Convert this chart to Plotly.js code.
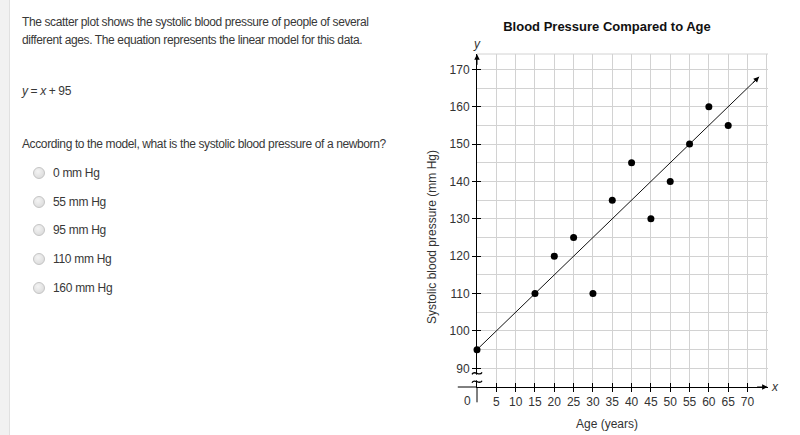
<!DOCTYPE html>
<html>
<head>
<meta charset="utf-8">
<script src="https://cdn.plot.ly/plotly-3.0.1.min.js"></script>
<style>
  body { margin: 0; width: 800px; height: 435px; overflow: hidden; background: #fff;
         font-family: "Liberation Sans", Arial, sans-serif; color: #383838; }
  #strip { position: absolute; left: 0; top: 0; width: 9px; height: 435px;
           background: #f1f1f1; border-right: 1px solid #e0e0e0; }
  .txt { position: absolute; left: 22px; font-size: 12px; letter-spacing: -0.38px; line-height: 17.5px;
         white-space: nowrap; z-index: 2; }
  .opt { position: absolute; left: 33px; font-size: 12px; letter-spacing: -0.3px; white-space: nowrap; z-index: 2; }
  .opt .dot { display: inline-block; width: 10px; height: 10px; border-radius: 50%;
              border: 1px solid #c4c4c4; background: radial-gradient(circle at 40% 35%, #f4f4f4, #d6d6d6);
              vertical-align: middle; margin-right: 8px; position: relative; top: -1px; }
  #plot { position: absolute; left: 400px; top: 0; width: 400px; height: 435px; }
</style>
</head>
<body>
<div id="strip"></div>
<div class="txt" style="top:14px">The scatter plot shows the systolic blood pressure of people of several<br>different ages. The equation represents the linear model for this data.</div>
<div class="txt" style="top:83px"><i>y</i> = <i>x</i> + 95</div>
<div class="txt" style="top:136px">According to the model, what is the systolic blood pressure of a newborn?</div>
<div id="options"></div>
<div id="plot"></div>
<script>
// answer choices
const choices = ['0 mm Hg', '55 mm Hg', '95 mm Hg', '110 mm Hg', '160 mm Hg'];

// scatter data
const ages = [0, 15, 20, 25, 30, 35, 40, 45, 50, 55, 60, 65];
const pressures = [95, 110, 120, 125, 110, 135, 145, 130, 140, 150, 160, 155];

// model line y = x + 95, drawn between its end points
const modelX = [0, 73];
const modelY = [95, 168];

const xTicks = [5, 10, 15, 20, 25, 30, 35, 40, 45, 50, 55, 60, 65, 70];
const yTicks = [90, 100, 110, 120, 130, 140, 150, 160, 170];

const optBox = document.getElementById('options');
choices.forEach((c, i) => {
    const d = document.createElement('div');
    d.className = 'opt';
    d.style.top = (166 + i * 28.7) + 'px';
    d.innerHTML = '<span class="dot"></span>' + c;
    optBox.appendChild(d);
});

const font = 'Liberation Sans, Arial, sans-serif';
const grid = '#d2d2d2';
const labelFont = { family: font, size: 12, color: '#333' };

const traces = [
    {
        x: modelX, y: modelY, mode: 'lines', type: 'scatter',
        line: { color: '#111', width: 1 }, hoverinfo: 'skip', cliponaxis: false
    },
    {
        x: ages, y: pressures, mode: 'markers', type: 'scatter',
        marker: { color: '#000', size: 7 }, cliponaxis: false
    },
    // empty trace so the overlay axes (inner half of the crossing ticks) get drawn
    { x: [], y: [], xaxis: 'x2', yaxis: 'y2', type: 'scatter' }
];

const axisCommon = {
    showline: true, linecolor: '#000', linewidth: 1,
    ticks: 'outside', ticklen: 4, tickcolor: '#000', tickwidth: 1,
    tickfont: labelFont,
    showgrid: true, gridcolor: grid, gridwidth: 1, zeroline: false,
    fixedrange: true, tickmode: 'array'
};

// small text placed around the axes, in axis-domain units
function note(x, y, text) {
    return { x: x, y: y, xref: 'x domain', yref: 'y domain', xanchor: 'center', yanchor: 'middle',
             text: text, showarrow: false, font: labelFont };
}

// one wavy stroke of the axis break mark, sized in pixels
function tilde(yDomain) {
    return { type: 'path', xref: 'x domain', yref: 'y domain', xsizemode: 'pixel', ysizemode: 'pixel',
             xanchor: 0, yanchor: yDomain, path: 'M-5,-1 C-2.5,4 2.5,-4 5,1',
             line: { color: '#000', width: 1.3 }, layer: 'above' };
}

const layout = {
    width: 400, height: 435,
    margin: { l: 77, r: 32, t: 54, b: 48 },
    paper_bgcolor: 'rgba(0,0,0,0)', plot_bgcolor: '#fff',
    showlegend: false,
    title: {
        text: '<b>Blood Pressure Compared to Age</b>',
        font: { family: font, size: 13, color: '#111' },
        xref: 'container', x: 0.5175, xanchor: 'center',
        yref: 'container', y: 0.94, yanchor: 'middle'
    },
    xaxis: Object.assign({}, axisCommon, {
        range: [0, 75.3], tickvals: xTicks,
        minor: { tick0: 0, dtick: 5, showgrid: true, gridcolor: grid, ticks: '' }
    }),
    yaxis: Object.assign({}, axisCommon, {
        range: [85, 174.1], tickvals: yTicks,
        minor: { tick0: 0, dtick: 5, showgrid: true, gridcolor: grid, ticks: '' }
    }),
    xaxis2: {
        overlaying: 'x', range: [0, 75.3], tickmode: 'array', tickvals: xTicks,
        ticks: 'inside', ticklen: 4, tickcolor: '#000', showticklabels: false,
        showgrid: false, zeroline: false, showline: false, fixedrange: true
    },
    yaxis2: {
        overlaying: 'y', range: [85, 174.1], tickmode: 'array', tickvals: yTicks,
        ticks: 'inside', ticklen: 4, tickcolor: '#000', showticklabels: false,
        showgrid: false, zeroline: false, showline: false, fixedrange: true
    },
    shapes: [
        // top border of the grid
        { type: 'line', xref: 'x domain', yref: 'y domain', x0: 0, x1: 1, y0: 1, y1: 1,
          line: { color: grid, width: 1 } },
        // x axis runs a little left of the origin
        { type: 'line', xref: 'x domain', yref: 'y domain', x0: -0.066, x1: 0, y0: 0, y1: 0,
          line: { color: '#000', width: 1 } },
        // y axis runs a little below the origin
        { type: 'line', xref: 'x domain', yref: 'y domain', x0: 0, x1: 0, y0: -0.046, y1: 0,
          line: { color: '#000', width: 1 } },
        // gap in the y axis for the break mark
        { type: 'rect', xref: 'x domain', yref: 'y domain', x0: -0.008, x1: 0.008, y0: 0.02, y1: 0.037,
          line: { width: 0 }, fillcolor: '#fff', layer: 'above' },
        tilde(0.041),
        tilde(0.016)
    ],
    annotations: [
        // arrow heads on the axes and on the model line
        { x: 75.2, y: 85, ax: -12, ay: 0, xref: 'x', yref: 'y', text: '', showarrow: true,
          arrowhead: 2, arrowsize: 1.1, arrowwidth: 1, arrowcolor: '#000' },
        { x: 0, y: 174, ax: 0, ay: 12, xref: 'x', yref: 'y', text: '', showarrow: true,
          arrowhead: 2, arrowsize: 1.1, arrowwidth: 1, arrowcolor: '#000' },
        { x: modelX[1], y: modelY[1], ax: 71, ay: 166, axref: 'x', ayref: 'y', xref: 'x', yref: 'y',
          text: '', showarrow: true, arrowhead: 2, arrowsize: 1.1, arrowwidth: 1, arrowcolor: '#000' },
        note(1.024, 0, '<i>x</i>'),
        note(0, 1.03, '<i>y</i>'),
        note(-0.031, -0.043, '0'),
        // axis titles
        { xref: 'paper', yref: 'paper', x: 0.446, y: -0.112, xanchor: 'center', yanchor: 'middle',
          text: 'Age (years)', showarrow: false, font: labelFont },
        { xref: 'paper', yref: 'paper', x: -0.155, y: 0.45, xanchor: 'center', yanchor: 'middle',
          textangle: -90, text: 'Systolic blood pressure (mm Hg)', showarrow: false, font: labelFont }
    ]
};

Plotly.newPlot('plot', traces, layout, { displayModeBar: false, staticPlot: true });
</script>
</body>
</html>
